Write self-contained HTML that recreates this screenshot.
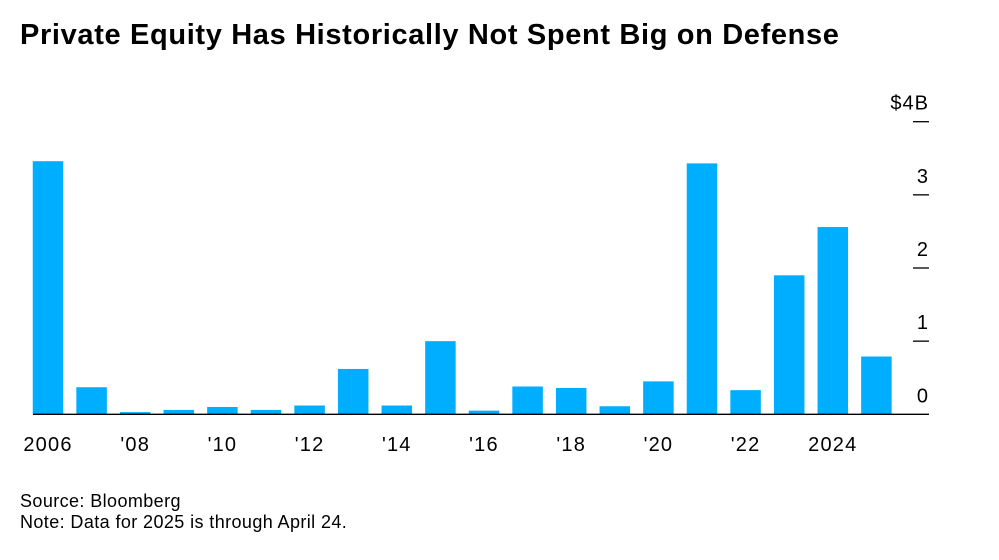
<!DOCTYPE html>
<html><head><meta charset="utf-8"><style>
body{margin:0;background:#fff;width:999px;height:560px;overflow:hidden;font-family:"Liberation Sans",Arial,sans-serif}
h1{position:absolute;left:20px;top:19px;margin:0;font-size:29px;font-weight:bold;color:#000;letter-spacing:0.65px;white-space:nowrap}
.note{position:absolute;left:20px;font-size:18px;color:#000;letter-spacing:0.4px}
</style></head><body>
<h1>Private Equity Has Historically Not Spent Big on Defense</h1>
<svg id="chart" width="999" height="560" style="position:absolute;left:0;top:0"></svg>
<div class="note" style="top:491px">Source: Bloomberg</div>
<div class="note" style="top:512px">Note: Data for 2025 is through April 24.</div>
<script>
const years=[2006,2007,2008,2009,2010,2011,2012,2013,2014,2015,2016,2017,2018,2019,2020,2021,2022,2023,2024,2025];
const values=[3.46,0.37,0.03,0.06,0.10,0.06,0.12,0.62,0.12,1.00,0.05,0.38,0.36,0.11,0.45,3.43,0.33,1.90,2.56,0.79];
const yTicks=[0,1,2,3,4];
const yTickLabels=["0","1","2","3","$4B"];
const xLabelYears=[2006,2008,2010,2012,2014,2016,2018,2020,2022,2024];
const xLabelText=["2006","'08","'10","'12","'14","'16","'18","'20","'22","2024"];
const NS="http://www.w3.org/2000/svg";
const svg=document.getElementById('chart');
const y0=414.3, pxPerUnit=73.15;
const y=v=>y0-v*pxPerUnit;
const x=yr=>48+(yr-2006)*43.6;
const bw=30.5;
function mk(t,a){const e=document.createElementNS(NS,t);for(const k in a)e.setAttribute(k,a[k]);svg.appendChild(e);return e;}
years.forEach((yr,i)=>{
  const r=mk('rect',{x:x(yr)-bw/2,y:y(values[i]),width:bw,height:y0-y(values[i]),fill:'#00aeff'});
  
  
});
const base=mk('line',{x1:33,x2:929,y1:y0,y2:y0,stroke:'#000','stroke-width':1.3});


yTicks.forEach((v,i)=>{
  if(v>0){
    const l=mk('line',{x1:913,x2:929,y1:y(v),y2:y(v),stroke:'#000','stroke-width':1.3});
    
    
  }
  const t=mk('text',{x:929,y:y(v)-12,'text-anchor':'end','font-size':20,'letter-spacing':1,fill:'#000'});
  t.textContent=yTickLabels[i];
  
  
});
xLabelYears.forEach((yr,i)=>{
  const t=mk('text',{x:x(yr),y:451,'text-anchor':'middle','font-size':20,'letter-spacing':1.2,fill:'#000'});
  t.textContent=xLabelText[i];
  
  
});
</script>
</body></html>
